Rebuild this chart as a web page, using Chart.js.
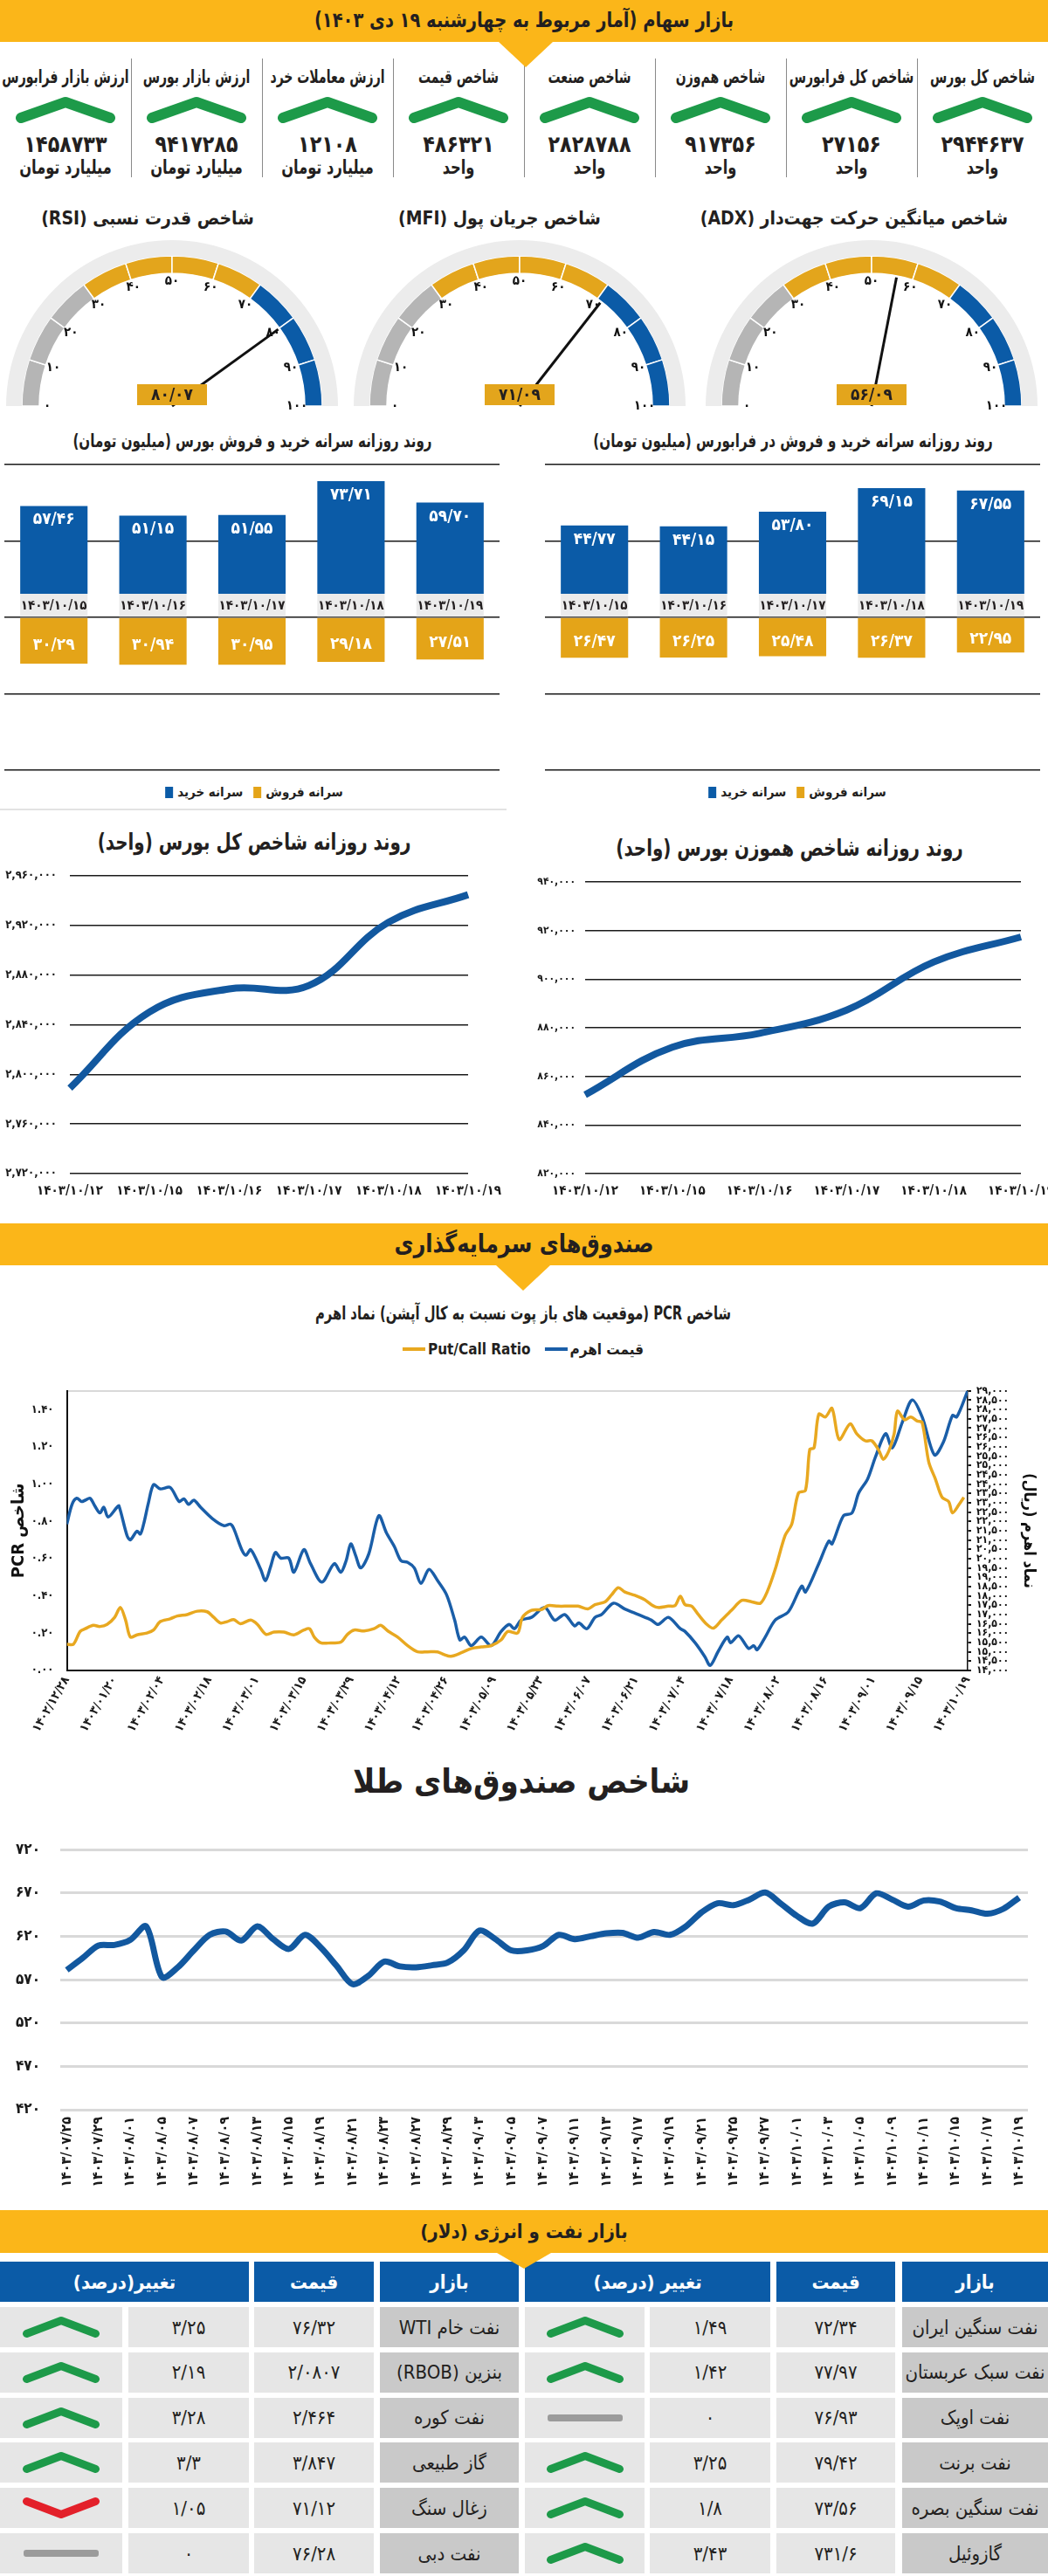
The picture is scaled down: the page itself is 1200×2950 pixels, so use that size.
<!DOCTYPE html>
<html lang="fa">
<head>
<meta charset="utf-8">
<title>بازار سهام</title>
<script src="https://cdn.jsdelivr.net/npm/chart.js@4.4.1/dist/chart.umd.min.js"></script>
<style>
html,body{margin:0;padding:0;background:#fff;}
#page{position:relative;width:1200px;height:2950px;overflow:hidden;background:#fff;font-family:"DejaVu Sans Condensed","DejaVu Sans",sans-serif;color:#231f20;}
.t{position:absolute;white-space:nowrap;direction:rtl;line-height:1.15;font-weight:bold;}
.cell{position:absolute;display:flex;align-items:center;justify-content:center;direction:rtl;white-space:nowrap;}
.legend{position:absolute;transform:translate(-50%,-50%);display:flex;align-items:center;direction:ltr;font-weight:bold;white-space:nowrap;}
canvas{position:absolute;}
</style>
</head>
<body>
<div id="page"></div>
<script>
// ---------------- DATA ----------------
const kpiLabels = ['شاخص کل بورس','شاخص کل فرابورس','شاخص هم‌وزن','شاخص صنعت','شاخص قیمت','ارزش معاملات خرد','ارزش بازار بورس','ارزش بازار فرابورس'];
const kpiValues = [2944637, 27156, 917356, 2828788, 486321, 12108, 9417285, 1458733];
const kpiUnits  = ['واحد','واحد','واحد','واحد','واحد','میلیارد تومان','میلیارد تومان','میلیارد تومان'];

const gaugeTitles = ['شاخص قدرت نسبی (RSI)','شاخص جریان پول (MFI)','شاخص میانگین حرکت جهت‌دار (ADX)'];
const gaugeValues = [80.07, 71.09, 56.09];
const gaugeTicks  = [0,10,20,30,40,50,60,70,80,90,100];
const gaugeZones  = [10,10,10,10,10,10,10,10,10,10];

const barDates       = ['1403/10/15','1403/10/16','1403/10/17','1403/10/18','1403/10/19'];
const bourseBuy      = [57.46, 51.15, 51.55, 73.71, 59.70];
const bourseSell     = [30.29, 30.94, 30.95, 29.18, 27.51];
const farabourseBuy  = [44.77, 44.15, 53.80, 69.15, 67.55];
const farabourseSell = [26.47, 26.25, 25.48, 26.37, 22.95];

const lineDates  = ['1403/10/12','1403/10/15','1403/10/16','1403/10/17','1403/10/18','1403/10/19'];
const totalIndex = [2788900, 2850200, 2868800, 2871500, 2922500, 2944637];
const equalIndex = [852460, 871990, 877730, 887300, 907070, 917356];

const pcrTickDates = ['1402/12/28','1403/01/20','1403/02/04','1403/02/18','1403/03/01','1403/03/15','1403/03/29','1403/04/12','1403/04/26','1403/05/09','1403/05/23','1403/06/07','1403/06/21','1403/07/04','1403/07/18','1403/08/02','1403/08/16','1403/09/01','1403/09/15','1403/10/19'];
const priceDay = [0,1.1,2.1,3.1,3.9,4.9,5.9,7.0,7.8,8.7,10.6,11.0,12.7,13.4,14.8,15.5,16.2,17.2,18.3,19.7,21.8,23.7,24.7,25.7,26.8,28.2,30.7,33.1,34.5,35.2,36.9,37.8,38.8,40.9,41.9,43.0,44.0,45.1,46.8,47.9,50.0,51.4,53.8,56.4,57.8,58.9,59.9,60.9,62.0,63.7,65.8,67.4,69.1,70.5,71.9,73.3,74.7,76.4,78.2,80.1,81.8,82.9,83.9,85.3,87.4,89.5,91.6,93.3,94.4,95.8,98.0,100.8,102.9,105.0,107.1,108.0,109.7,111.4,112.8,115.3,117.7,120.5,123.3,124.7,126.9,129.4,130.4,132.5,134.6,135.7,137.4,139.3,140.0,141.7,143.8,144.9,145.6,147.3,149.4,152.2,155.0,155.8,158.6,160.7,161.4,163.8,165.6,167.0,168.9,170.6,172.7,174.1,176.2,178.3,180.4,183.0,184.9,186.8,187.7,190];
const priceVals = [21850,22910,23240,23060,23135,23240,22830,22450,22760,22230,22760,22830,21240,21010,21470,21320,21850,22980,23970,23740,23820,23060,23210,22910,23135,22760,22150,21770,21850,21620,20480,20180,20480,19420,18820,19580,20330,20030,20030,19270,20480,19730,18740,19730,19270,19880,20790,20180,19500,20260,22300,21390,20640,19880,19800,19500,18670,19420,18820,18060,16700,15640,15790,15330,15790,15330,16090,16470,16240,16700,16850,17380,16700,17000,16390,16550,16240,16850,17000,17610,17300,17000,16700,16470,16850,16240,16090,15490,14730,14270,15030,15790,15490,15860,15180,15330,15110,15790,16700,17150,18520,18210,19730,20940,20790,22300,22450,23510,24270,25480,26700,25940,27300,28510,27600,25560,26260,27680,27600,29000];
const pcrDay = [0,1.4,2.8,3.9,5.6,7.0,8.5,10.1,11.3,12.4,13.4,14.8,16.9,18.3,19.7,21.8,23.3,25.4,27.5,29.6,31.0,32.4,33.8,35.2,36.6,38.8,40.2,42.0,43.7,45.8,47.9,50.0,51.2,52.2,53.6,55.7,57.8,59.2,60.6,62.7,64.8,66.2,67.7,69.8,71.9,74.0,76.1,78.2,79.6,81.0,83.2,85.3,87.4,89.5,91.6,93.0,95.1,96.1,98.0,100.1,101.5,103.6,105.7,107.8,109.9,111.4,113.5,114.9,116.3,117.7,119.8,121.9,123.3,124.7,126.9,128.3,129.4,130.4,131.8,133.2,135.0,136.4,138.1,140.2,142.4,144.5,146.3,147.7,149.4,151.5,152.9,154.3,155.8,156.7,157.6,158.6,160.0,161.4,162.9,165.2,166.6,168.4,169.8,171.3,172.2,173.4,174.5,175.2,176.7,178.0,179.4,180.4,181.8,183.2,184.6,186.0,186.8,188.2,189.2];
const pcrVals = [0.141,0.141,0.209,0.224,0.242,0.236,0.247,0.285,0.338,0.270,0.179,0.191,0.201,0.217,0.262,0.277,0.292,0.300,0.318,0.315,0.285,0.255,0.262,0.273,0.251,0.270,0.247,0.194,0.206,0.206,0.191,0.217,0.224,0.179,0.148,0.148,0.152,0.194,0.217,0.212,0.224,0.242,0.212,0.179,0.133,0.100,0.100,0.100,0.085,0.076,0.095,0.118,0.126,0.133,0.164,0.209,0.201,0.285,0.323,0.327,0.348,0.345,0.345,0.345,0.330,0.353,0.368,0.406,0.444,0.421,0.403,0.379,0.353,0.338,0.345,0.348,0.398,0.353,0.345,0.300,0.247,0.227,0.270,0.323,0.376,0.368,0.361,0.421,0.542,0.724,0.785,0.951,0.967,1.186,1.194,1.375,1.360,1.406,1.239,1.323,1.270,1.232,1.232,1.179,1.133,1.179,1.270,1.391,1.345,1.360,1.338,1.330,1.118,1.027,0.929,0.906,0.845,0.891,0.929];

const goldTickDates = ['1403/07/25','1403/07/29','1403/08/01','1403/08/05','1403/08/07','1403/08/09','1403/08/13','1403/08/15','1403/08/19','1403/08/21','1403/08/23','1403/08/27','1403/08/29','1403/09/03','1403/09/05','1403/09/07','1403/09/11','1403/09/13','1403/09/17','1403/09/19','1403/09/21','1403/09/25','1403/09/27','1403/10/01','1403/10/03','1403/10/05','1403/10/09','1403/10/11','1403/10/15','1403/10/17','1403/10/19'];
const goldValues = [581.1,595.0,609.4,610.0,615.9,631.5,572.9,584.3,603.8,621.7,625.6,615.2,631.5,616.8,605.5,621.7,607.1,586.0,564.8,574.5,590.8,585.3,584.3,586.6,589.8,603.8,626.6,616.8,603.8,603.8,608.7,621.7,616.8,620.1,623.4,624.0,618.5,625.0,621.7,631.5,647.8,658.2,655.9,662.4,670.5,657.5,643.5,634.7,654.3,659.2,652.6,669.6,662.4,654.3,661.4,660.1,652.6,650.0,646.1,651.7,664.7];

const oilNamesA   = ['نفت سنگین ایران','نفت سبک عربستان','نفت اوپک','نفت برنت','نفت سنگین بصره','گازوئیل'];
const oilPricesA  = [72.34, 77.97, 76.93, 79.42, 73.56, 731.6];
const oilChangesA = [1.49, 1.42, 0, 3.25, 1.8, 3.43];
const oilDirA     = ['up','up','flat','up','up','up'];
const oilNamesB   = ['نفت خام WTI','بنزین (RBOB)','نفت کوره','گاز طبیعی','زغال سنگ','نفت دبی'];
const oilPricesB  = [76.32, 2.0807, 2.464, 3.847, 71.12, 76.28];
const oilChangesB = [3.25, 2.19, 3.28, 3.3, 1.05, 0];
const oilDirB     = ['up','up','up','up','down','flat'];

// ---------------- HELPERS ----------------
const FA = '۰۱۲۳۴۵۶۷۸۹';
const toFa = s => String(s).replace(/[0-9]/g, d => FA[+d]);
const faDec = (v, n) => toFa(n == null ? String(v) : v.toFixed(n)).replace('.', '/');
const FONT = '"DejaVu Sans Condensed","DejaVu Sans",sans-serif';
const BLUE = '#0b5ba7', GOLD = '#e4a418', YELLOW = '#fbb619', LINE_BLUE = '#12589f', DARK = '#231f20';
const DATE_BAND = 15.4;
Chart.defaults.font.family = FONT;
Chart.defaults.color = '#1a1a1a';
Chart.defaults.animation = false;
Chart.defaults.plugins.legend.display = false;
Chart.defaults.plugins.tooltip.enabled = false;

const page = document.getElementById('page');
function el(tag, cls, css, text){ const e=document.createElement(tag); if(cls) e.className=cls; if(css) e.style.cssText=css; if(text!=null) e.textContent=text; page.appendChild(e); return e; }
function txt(text, cx, cy, size, sx, extra){ return el('div','t',`left:${cx}px;top:${cy}px;font-size:${size}px;transform:translate(-50%,-50%) scaleX(${sx||1});${extra||''}`, text); }
function makeCanvas(left, top, w, h){ const c=el('canvas',null,`left:${left}px;top:${top}px;width:${w}px;height:${h}px;`); c.width=w; c.height=h; c.setAttribute('dir','rtl'); return c; }
function band(top, h, title, size, sx, triCx, triH){
  el('div',null,`position:absolute;left:0;top:${top}px;width:1200px;height:${h}px;background:${YELLOW};`);
  el('div',null,`position:absolute;left:${triCx-31}px;top:${top+h}px;width:0;height:0;border-left:31px solid transparent;border-right:31px solid transparent;border-top:${triH}px solid ${YELLOW};z-index:5;`);
  txt(title, 600, top + h/2, size, sx);
}
function icon(kind, w, h, sw){
  if(kind==='flat') return `<svg width="${w}" height="${h}"><rect x="2" y="${h/2-4}" width="${w-4}" height="8" rx="3" fill="#9b9b9b"/></svg>`;
  const p=sw/2+1, up = kind==='up';
  const pts = up ? `${p},${h-p} ${w/2},${p} ${w-p},${h-p}` : `${p},${p} ${w/2},${h-p} ${w-p},${p}`;
  return `<svg width="${w}" height="${h}"><polyline points="${pts}" fill="none" stroke="${up?'#1d9a49':'#e3202a'}" stroke-width="${sw}" stroke-linecap="round" stroke-linejoin="round"/></svg>`;
}

// ---------------- HEADER + KPI ----------------
band(0, 48, 'بازار سهام (آمار مربوط به چهارشنبه ۱۹ دی ۱۴۰۳)', 24, 0.9, 602, 29);
kpiLabels.forEach((lab,i)=>{
  const cx = 1200 - 75 - i*150;
  txt(lab, cx, 88, 21, 0.74);
  const ic = el('div',null,`position:absolute;left:${cx-58}px;top:110px;`); ic.innerHTML = icon('up',116,32,12);
  txt(toFa(kpiValues[i]), cx, 166, 26, 0.95);
  txt(kpiUnits[i], cx, 192, 22, 0.82);
  if(i<7) el('div',null,`position:absolute;left:${1200-(i+1)*150}px;top:67px;width:1px;height:136px;background:#8a8a8a;`);
});

// ---------------- GAUGES ----------------
const gaugeCenters = [197, 595, 998];
const gaugeTitleX = [169, 572, 978];
const gaugeDeco = {
  id:'gaugeDeco',
  afterDatasetsDraw(chart, args, opts){
    const arc = chart.getDatasetMeta(1).data[0];
    const cx = arc.x, cy = arc.y, c = chart.ctx;
    c.save();
    c.fillStyle='#111'; c.font='bold 15px '+FONT; c.textAlign='center'; c.textBaseline='middle';
    gaugeTicks.forEach(t=>{ const a=Math.PI+t/100*Math.PI; c.fillText(toFa(t), cx+143*Math.cos(a), cy+143*Math.sin(a)); });
    const a = Math.PI + opts.value/100*Math.PI;
    c.strokeStyle='#111'; c.lineWidth=3; c.beginPath(); c.moveTo(cx,cy); c.lineTo(cx+150*Math.cos(a), cy+150*Math.sin(a)); c.stroke();
    c.fillStyle='#e3a51c'; c.fillRect(cx-40, cy-25, 80, 24);
    c.fillStyle=DARK; c.font='bold 19px '+FONT; c.fillText(faDec(opts.value,2), cx, cy-12);
    c.restore();
  }
};
gaugeValues.forEach((v,i)=>{
  txt(gaugeTitles[i], gaugeTitleX[i], 250, 21);
  const cv = makeCanvas(gaugeCenters[i]-200, 275, 400, 205);
  new Chart(cv, {
    type:'doughnut',
    data:{ labels: gaugeZones.map((z,k)=>String(k*10)), datasets:[
      {data:[100], backgroundColor:['#ececec'], borderWidth:0, weight:18},
      {data:gaugeZones, backgroundColor:gaugeZones.map((z,k)=> k<3?'#b5b5b5':(k<7?'#e3a51c':BLUE)), borderColor:'#ffffff', borderWidth:1.5, weight:20}
    ]},
    options:{ responsive:false, circumference:180, rotation:-90, cutout:'80%',
      layout:{padding:{left:10,right:10,top:0,bottom:15}},
      plugins:{ gaugeDeco:{value:v} } },
    plugins:[gaugeDeco]
  });
});

// ---------------- BAR CHARTS ----------------
const barLabels = {
  id:'barLabels',
  afterDatasetsDraw(chart){
    const c=chart.ctx, bandM=chart.getDatasetMeta(0), buyM=chart.getDatasetMeta(1), sellM=chart.getDatasetMeta(2);
    c.save(); c.textAlign='center'; c.textBaseline='middle';
    chart.data.labels.forEach((lab,i)=>{
      const b=bandM.data[i], u=buyM.data[i], s=sellM.data[i];
      c.fillStyle=DARK; c.font='bold 15px '+FONT; c.fillText(toFa(lab), b.x, (b.y+b.base)/2+1);
      c.fillStyle='#fff'; c.font='bold 19px '+FONT;
      c.fillText(faDec(chart.data.datasets[1].data[i],2), u.x, u.y+16);
      c.fillText(faDec(-chart.data.datasets[2].data[i],2), s.x, (s.y+s.base)/2+5);
    });
    c.restore();
  }
};
function barChart(left, padL, padR, buy, sell){
  new Chart(makeCanvas(left, 520, 600, 372), {
    type:'bar',
    data:{ labels:barDates, datasets:[
      {label:'date', data:barDates.map(()=>DATE_BAND), backgroundColor:'#ebebeb'},
      {label:'سرانه خرید', data:buy, backgroundColor:BLUE},
      {label:'سرانه فروش', data:sell.map(v=>-v), backgroundColor:GOLD}
    ]},
    options:{ responsive:false,
      layout:{padding:{left:padL,right:padR,top:12,bottom:10}},
      datasets:{bar:{barPercentage:0.68, categoryPercentage:1}},
      scales:{
        x:{stacked:true, display:false},
        y:{stacked:true, min:-100, max:100, ticks:{display:false, stepSize:50}, grid:{color:'#1a1a1a', lineWidth:1.5, drawTicks:false}, border:{display:false}}
      }},
    plugins:[barLabels]
  });
}
txt('روند روزانه سرانه خرید و فروش بورس (میلیون تومان)', 289, 505, 21, 0.8);
txt('روند روزانه سرانه خرید و فروش در فرابورس (میلیون تومان)', 908, 505, 21, 0.8);
barChart(0, 5, 28, bourseBuy, bourseSell);
barChart(600, 24, 9, farabourseBuy, farabourseSell);
function barLegend(cx, cy){
  const d = el('div','legend',`left:${cx}px;top:${cy}px;font-size:15px;`);
  d.innerHTML = `<span style="display:inline-block;width:9px;height:13px;background:${BLUE};margin-right:5px"></span><span dir="rtl">سرانه خرید</span>`+
                `<span style="display:inline-block;width:9px;height:13px;background:${GOLD};margin:0 5px 0 12px"></span><span dir="rtl">سرانه فروش</span>`;
}
barLegend(291, 907); barLegend(913, 907);
el('div',null,'position:absolute;left:0;top:926px;width:580px;height:2px;background:#e3e3e3;');

// ---------------- LINE CHARTS ----------------
function lineChart(left, padR, padT, yWidth, yPad, ySize, data, min, max, step){
  new Chart(makeCanvas(left, 980, 600, 400), {
    type:'line',
    data:{ labels: lineDates, datasets:[{data, borderColor:LINE_BLUE, borderWidth:8, pointRadius:0, tension:0.4, fill:false}]},
    options:{ responsive:false,
      layout:{padding:{left:0,right:padR,top:padT,bottom:0}},
      scales:{
        x:{ grid:{display:false, drawTicks:false}, border:{display:false},
            ticks:{font:{size:15,weight:'bold'}, color:'#1a1a1a', padding:11, maxRotation:0, autoSkip:false, callback(v){ return toFa(this.getLabelForValue(v)); }},
            afterFit(s){ s.height=36; s.paddingLeft=0; s.paddingRight=0; } },
        y:{ min, max, ticks:{stepSize:step, font:{size:ySize,weight:'bold'}, color:'#1a1a1a', padding:yPad, callback:v=>toFa(v.toLocaleString('en-US'))},
            grid:{color:'#1a1a1a', lineWidth:1.5, drawTicks:false}, border:{display:false},
            afterFit(s){ s.width=yWidth; } }
      }}
  });
}
txt('روند روزانه شاخص کل بورس (واحد)', 291, 965, 26, 0.85);
txt('روند روزانه شاخص هموزن بورس (واحد)', 904, 972, 26, 0.85);
lineChart(0, 64, 19, 80, 15, 13, totalIndex, 2720000, 2960000, 40000);
lineChart(600, 31, 30, 70, 11, 12, equalIndex, 820000, 940000, 20000);

// ---------------- INVESTMENT FUNDS ----------------
band(1401, 48, 'صندوق‌های سرمایه‌گذاری', 29, 0.92, 599, 29);
txt('شاخص PCR (موقعیت های باز پوت نسبت به کال آپشن) نماد اهرم', 599, 1504, 21, 0.78);
{
  const d = el('div','legend','left:599px;top:1545px;font-size:17px;');
  d.innerHTML = `<span style="display:inline-block;width:26px;height:4px;background:#e8a820;margin-right:3px"></span><span>Put/Call Ratio</span>`+
                `<span style="display:inline-block;width:26px;height:4px;background:#1a5ea8;margin:0 3px 0 16px"></span><span dir="rtl">قیمت اهرم</span>`;
}
new Chart(makeCanvas(0, 1570, 1200, 420), {
  type:'line',
  data:{ datasets:[
    {label:'Put/Call Ratio', data:pcrDay.map((x,i)=>({x, y:pcrVals[i]})), yAxisID:'y', borderColor:'#e8a820', borderWidth:3.5, pointRadius:0, tension:0.3},
    {label:'قیمت اهرم', data:priceDay.map((x,i)=>({x, y:priceVals[i]})), yAxisID:'y2', borderColor:'#1a5ea8', borderWidth:3.5, pointRadius:0, tension:0.3}
  ]},
  options:{ responsive:false,
    layout:{padding:{left:0,right:0,top:13,bottom:0}},
    scales:{
      x:{ type:'linear', min:0, max:190,
          ticks:{stepSize:10, autoSkip:false, minRotation:60, maxRotation:60, font:{size:14,weight:'bold'}, color:'#1a1a1a', padding:4,
                 callback:v=> (v%10===0 && pcrTickDates[v/10]) ? toFa(pcrTickDates[v/10]) : ''},
          grid:{display:false, drawTicks:false}, border:{color:'#111', width:2},
          afterFit(s){ s.height=77; s.paddingLeft=0; s.paddingRight=0; } },
      y:{ position:'left', min:0, max:1.5,
          ticks:{stepSize:0.2, includeBounds:false, font:{size:13,weight:'bold'}, color:'#1a1a1a', padding:15, callback:v=>toFa(v.toFixed(2))},
          grid:{display:false, drawTicks:false}, border:{color:'#111', width:2},
          title:{display:true, text:'شاخص PCR', font:{size:20,weight:'bold'}, color:'#111', padding:{top:10,bottom:0}},
          afterFit(s){ s.width=76.5; } },
      y2:{ position:'right', min:14000, max:29000,
          ticks:{stepSize:500, autoSkip:false, font:{size:12,weight:'bold'}, color:'#111', padding:6, callback:v=>toFa(v.toLocaleString('en-US'))},
          grid:{drawOnChartArea:true, color:c=> (c.tick && c.tick.value===29000) ? '#d9d9d9' : 'rgba(0,0,0,0)', tickColor:'#111', tickLength:4, lineWidth:2},
          border:{color:'#111', width:1.5},
          title:{display:true, text:'نماد اهرم (ریال)', font:{size:18,weight:'bold'}, color:'#111', padding:{top:12,bottom:0}},
          afterFit(s){ s.width=92; } }
    }}
});

// ---------------- GOLD FUNDS ----------------
txt('شاخص صندوق‌های طلا', 597, 2041, 38);
new Chart(makeCanvas(0, 2085, 1200, 445), {
  type:'line',
  data:{ datasets:[{data:goldValues.map((v,i)=>({x:i/2, y:v})), borderColor:LINE_BLUE, borderWidth:7, pointRadius:0, tension:0.3}]},
  options:{ responsive:false,
    layout:{padding:{left:0,right:23,top:13.5,bottom:0}},
    scales:{
      x:{ type:'linear', min:-0.206, max:30.275,
          ticks:{stepSize:1, includeBounds:false, autoSkip:false, minRotation:90, maxRotation:90, font:{size:16,weight:'bold'}, color:'#1a1a1a', padding:8,
                 callback:v=> Number.isInteger(v) && goldTickDates[v] ? toFa(goldTickDates[v]) : ''},
          grid:{display:false, drawTicks:false}, border:{display:false},
          afterFit(s){ s.height=114; s.paddingLeft=0; s.paddingRight=0; } },
      y:{ min:420, max:720, ticks:{stepSize:50, font:{size:17,weight:'bold'}, color:'#1a1a1a', padding:23, callback:v=>toFa(v)},
          grid:{color:'#d9d9d9', lineWidth:3, drawTicks:false}, border:{display:false},
          afterFit(s){ s.width=69; } }
    }}
});

// ---------------- OIL & ENERGY TABLE ----------------
band(2531, 49, 'بازار نفت و انرژی (دلار)', 22, 1, 600, 18);
const colsA = {name:[1033,1200], price:[889,1025], num:[744,882], icon:[601,738]};
const colsB = {name:[435,594], price:[291,428], num:[147,285], icon:[0,140]};
function cell(x0, x1, top, h, bg, text, css){
  return el('div','cell',`left:${x0}px;top:${top}px;width:${x1-x0}px;height:${h}px;background:${bg};${css||''}`, text);
}
const hdrCss = 'color:#fff;font-weight:bold;font-size:22px;';
cell(1033,1200,2590,46,BLUE,'بازار',hdrCss); cell(889,1025,2590,46,BLUE,'قیمت',hdrCss); cell(601,882,2590,46,BLUE,'تغییر (درصد)',hdrCss);
cell(435,594,2590,46,BLUE,'بازار',hdrCss); cell(291,428,2590,46,BLUE,'قیمت',hdrCss); cell(0,285,2590,46,BLUE,'تغییر(درصد)',hdrCss);
function tableSide(cols, names, prices, changes, dirs){
  names.forEach((n,r)=>{
    const top = 2642 + r*51.8, bodyCss='font-size:22px;color:#231f20;';
    cell(cols.name[0], cols.name[1], top, 46, '#c9c9c9', n, bodyCss);
    cell(cols.price[0], cols.price[1], top, 46, '#e6e6e6', faDec(prices[r]), bodyCss);
    cell(cols.num[0], cols.num[1], top, 46, '#e6e6e6', faDec(changes[r]), bodyCss);
    const ic = cell(cols.icon[0], cols.icon[1], top, 46, '#e6e6e6', null);
    ic.innerHTML = icon(dirs[r], 90, 26, 9);
  });
}
tableSide(colsA, oilNamesA, oilPricesA, oilChangesA, oilDirA);
tableSide(colsB, oilNamesB, oilPricesB, oilChangesB, oilDirB);
</script>
</body>
</html>
